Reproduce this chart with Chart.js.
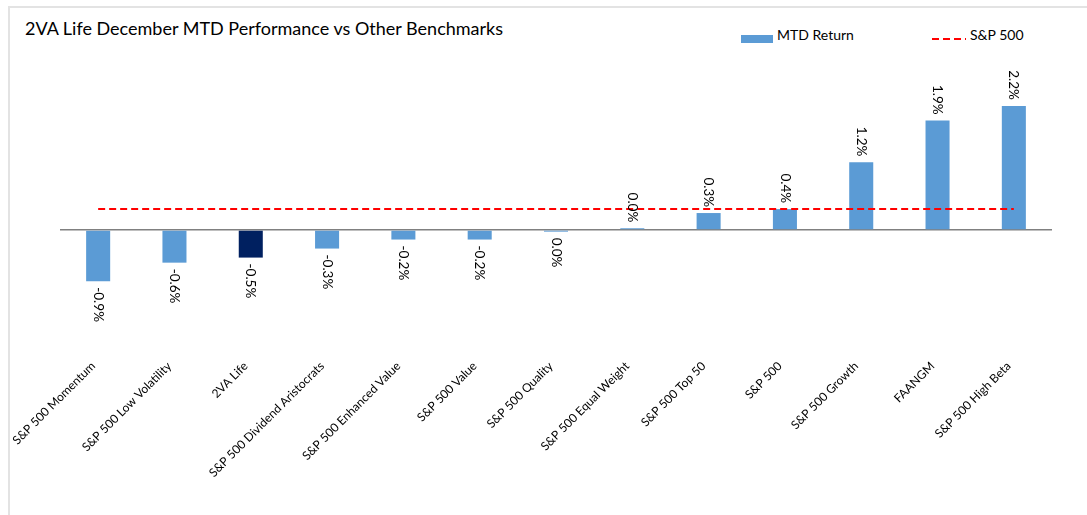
<!DOCTYPE html>
<html>
<head>
<meta charset="utf-8">
<script src="https://cdn.jsdelivr.net/npm/chart.js@4.4.1/dist/chart.umd.min.js"></script>
<style>
    html, body { margin: 0; padding: 0; background: #fff; }
    #wrap { position: relative; width: 1087px; height: 515px; overflow: hidden; font-family: Lato, 'Open Sans', sans-serif; }
    .frame { position: absolute; left: 8px; top: 6px; right: -4px; bottom: -4px; border-left: 2px solid #E3E3E3; border-top: 2px solid #E3E3E3; }
    #title { position: absolute; left: 25px; top: 19px; font-size: 18px; line-height: 18px; color: #000; white-space: nowrap; }
    .leg-text { position: absolute; top: 28px; font-size: 14px; line-height: 14px; color: #000; white-space: nowrap; }
    .leg-box { position: absolute; left: 741px; top: 35px; width: 32px; height: 8px; background: #5B9BD5; }
    .leg-dash { position: absolute; left: 932px; top: 37px; }
    canvas { position: absolute; left: 0; top: 0; }
</style>
</head>
<body>
<div id="wrap">
    <div class="frame"></div>
    <div id="title">2VA Life December MTD Performance vs Other Benchmarks</div>
    <div class="leg-box"></div>
    <div class="leg-text" style="left:777px;">MTD Return</div>
    <svg class="leg-dash" width="34" height="4"><line x1="0" y1="2" x2="34" y2="2" stroke="#FF0000" stroke-width="2" stroke-dasharray="7 4"/></svg>
    <div class="leg-text" style="left:970px;">S&amp;P 500</div>
    <canvas id="chart" width="1087" height="515"></canvas>
</div>
<script>
// --- datos ---
const categories = [
    'S&P 500 Momentum', 'S&P 500 Low Volatility', '2VA Life', 'S&P 500 Dividend Aristocrats',
    'S&P 500 Enhanced Value', 'S&P 500 Value', 'S&P 500 Quality', 'S&P 500 Equal Weight',
    'S&P 500 Top 50', 'S&P 500', 'S&P 500 Growth', 'FAANGM', 'S&P 500 High Beta'
];
const mtdReturn = [-0.91, -0.58, -0.49, -0.33, -0.17, -0.17, -0.03, 0.03, 0.30, 0.37, 1.20, 1.94, 2.20];
const sp500Line = [0.37, 0.37, 0.37, 0.37, 0.37, 0.37, 0.37, 0.37, 0.37, 0.37, 0.37, 0.37, 0.37];
const highlight = '2VA Life';

const FONT = 'Lato, "Open Sans", sans-serif';

// Etiquetas verticales sobre/bajo cada barra
const barLabels = {
    id: 'barLabels',
    afterDatasetsDraw(chart) {
        const meta = chart.getDatasetMeta(0);
        const ctx = chart.ctx;
        ctx.save();
        ctx.font = '13.5px ' + FONT;
        ctx.fillStyle = '#000';
        ctx.textBaseline = 'middle';
        meta.data.forEach((bar, i) => {
            const v = mtdReturn[i];
            const txt = (Math.round(v * 10) / 10).toFixed(1) + '%';
            ctx.save();
            if (v >= 0) {
                ctx.translate(bar.x, bar.y - 6);
                ctx.rotate(Math.PI / 2);
                ctx.textAlign = 'right';
            } else {
                ctx.translate(bar.x, bar.y + 6);
                ctx.rotate(Math.PI / 2);
                ctx.textAlign = 'left';
            }
            ctx.fillText(txt, 0, 0);
            ctx.restore();
        });
        ctx.restore();
    }
};

new Chart(document.getElementById('chart').getContext('2d'), {
    type: 'bar',
    data: {
        labels: categories,
        datasets: [
            {
                label: 'MTD Return',
                data: mtdReturn,
                backgroundColor: categories.map(c => c === highlight ? '#002060' : '#5B9BD5'),
                barPercentage: 0.315,
                categoryPercentage: 1,
                order: 2
            },
            {
                type: 'line',
                label: 'S&P 500',
                data: sp500Line,
                borderColor: '#FF0000',
                borderWidth: 2,
                borderDash: [7, 4],
                pointRadius: 0,
                fill: false,
                order: 1
            }
        ]
    },
    options: {
        responsive: false,
        animation: false,
        layout: { padding: { left: 60, right: 35, top: 89, bottom: 11 } },
        plugins: {
            legend: { display: false },
            tooltip: { enabled: false }
        },
        scales: {
            x: {
                grid: { display: false },
                border: { display: false },
                afterFit: scale => { scale.height = 150; },
                ticks: {
                    autoSkip: false,
                    maxRotation: 45,
                    minRotation: 45,
                    padding: -3,
                    labelOffset: -5,
                    color: '#000',
                    font: { family: FONT, size: 12 }
                }
            },
            y: {
                min: -2.2,
                max: 2.5,
                border: { display: false },
                ticks: { display: false, stepSize: 0.5 },
                grid: {
                    drawTicks: false,
                    lineWidth: 1.5,
                    color: c => c.tick && c.tick.value === 0 ? '#808080' : 'rgba(0,0,0,0)'
                }
            }
        }
    },
    plugins: [barLabels]
});
</script>
</body>
</html>
